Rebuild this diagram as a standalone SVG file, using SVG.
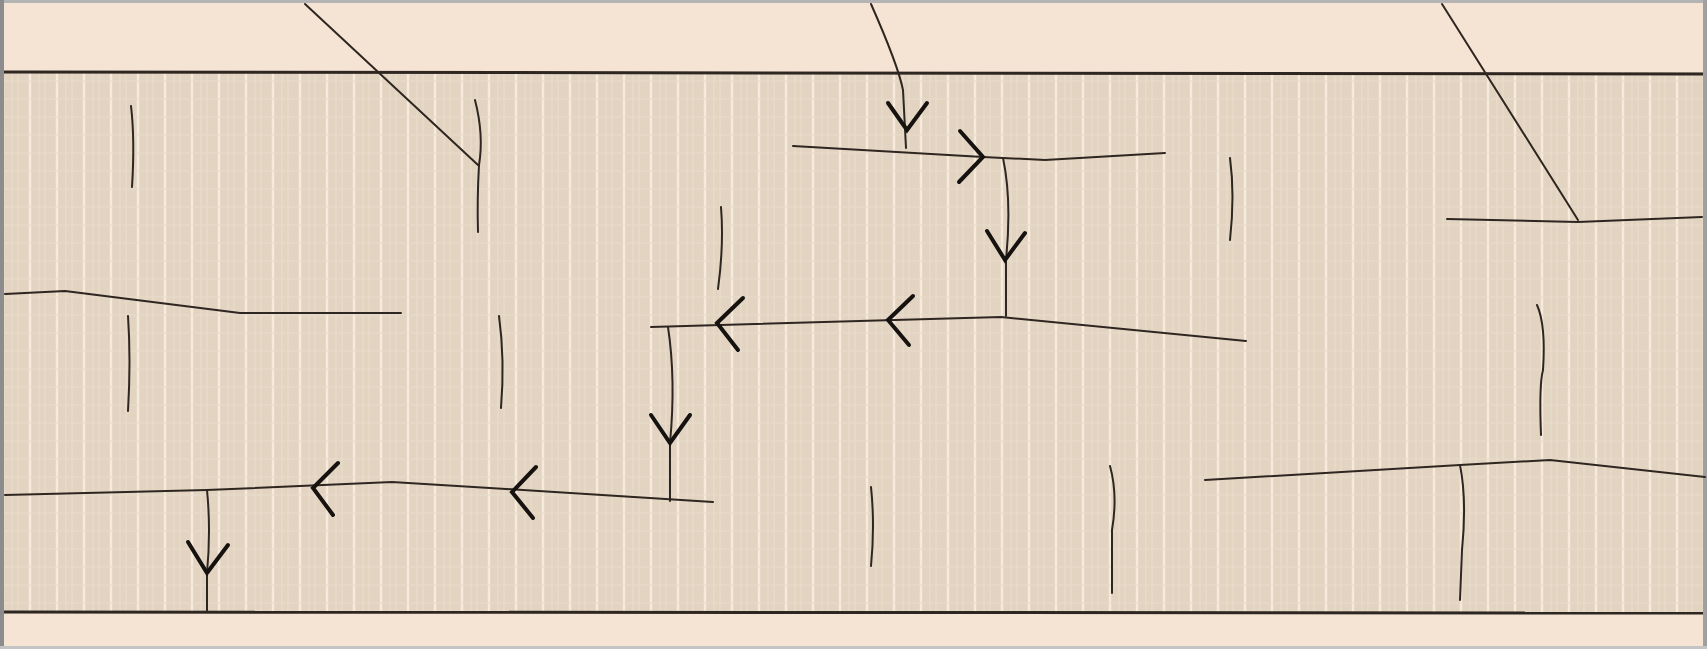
<svg xmlns="http://www.w3.org/2000/svg" width="1707" height="649" viewBox="0 0 1707 649">
<defs>
<pattern id="grid" x="0" y="72" width="27" height="36" patternUnits="userSpaceOnUse">
<rect width="27" height="36" fill="#e3d4c2"/>
<line x1="3" y1="0" x2="3" y2="36" stroke="#f5eadc" stroke-width="2.5"/>
<line x1="12" y1="0" x2="12" y2="36" stroke="#ecdfcf" stroke-width="1"/>
<line x1="18" y1="0" x2="18" y2="36" stroke="#ecdfcf" stroke-width="1"/>
<line x1="0" y1="9" x2="27" y2="9" stroke="#eadccb" stroke-width="1"/>
<line x1="0" y1="27" x2="27" y2="27" stroke="#eadccb" stroke-width="1"/>
</pattern>
<style>
.edge{fill:none;stroke:#2e2620;stroke-width:3}
.crack{fill:none;stroke:#2e2620;stroke-width:2;stroke-linecap:round;stroke-linejoin:round}
.arrow{fill:none;stroke:#161210;stroke-width:4;stroke-linecap:round;stroke-linejoin:miter}
</style>
</defs>
<rect width="1707" height="649" fill="#f5e3d3"/>
<rect x="0" y="72" width="1707" height="541" fill="url(#grid)"/>
<g id="frame">
<line class="edge" x1="0" y1="72" x2="1707" y2="74"/>
<line class="edge" x1="0" y1="612" x2="1707" y2="613"/>
<rect x="0" y="0" width="1707" height="3" fill="#b4b4b4"/>
<rect x="0" y="0" width="4" height="649" fill="#8c8c8c"/>
<rect x="1703" y="0" width="4" height="649" fill="#a0a0a0"/>
<rect x="0" y="646" width="1707" height="3" fill="#c4c4c4"/>
</g>
<g id="connectors">
<path class="crack" d="M305,4 L478,165"/>
<path class="crack" d="M475,100 Q484,135 479,165 Q477,200 478,232"/>
<path class="crack" d="M131,106 Q135,140 132,187"/>
<path class="crack" d="M871,4 Q898,65 903,90 L906,148"/>
<path class="crack" d="M793,146 L983,157 L1045,160 L1165,153"/>
<path class="crack" d="M1003,158 Q1012,200 1006,260 L1006,316"/>
<path class="crack" d="M651,327 L1001,317 L1246,341"/>
<path class="crack" d="M668,327 Q676,380 670,443 L670,501"/>
<path class="crack" d="M5,495 L207,490 L392,482 L523,490 L713,502"/>
<path class="crack" d="M207,490 Q211,530 207,573 L207,612"/>
<path class="crack" d="M5,294 L65,291 L240,313 L401,313"/>
<path class="crack" d="M128,316 Q131,360 128,411"/>
<path class="crack" d="M499,316 Q505,360 501,408"/>
<path class="crack" d="M721,207 Q724,245 718,289"/>
<path class="crack" d="M1230,158 Q1235,195 1230,240"/>
<path class="crack" d="M1537,305 Q1546,325 1543,370 Q1539,385 1541,435"/>
<path class="crack" d="M871,487 Q875,525 871,566"/>
<path class="crack" d="M1110,466 Q1118,495 1112,530 L1112,593"/>
<path class="crack" d="M1205,480 L1460,465 L1550,460 L1705,477"/>
<path class="crack" d="M1460,465 Q1467,500 1462,550 L1460,600"/>
<path class="crack" d="M1442,4 L1578,220"/>
<path class="crack" d="M1447,219 L1578,222 L1702,217"/>
</g>
<g id="arrows">
<polyline class="arrow" points="888,103 907,130 927,103"/>
<polyline class="arrow" points="960,131 983,157 959,182"/>
<polyline class="arrow" points="987,231 1005,260 1025,233"/>
<polyline class="arrow" points="743,298 717,323 738,350"/>
<polyline class="arrow" points="913,296 888,320 909,345"/>
<polyline class="arrow" points="651,415 670,443 690,415"/>
<polyline class="arrow" points="338,463 313,488 333,515"/>
<polyline class="arrow" points="536,467 512,492 533,518"/>
<polyline class="arrow" points="188,542 207,573 228,545"/>
</g>
</svg>
